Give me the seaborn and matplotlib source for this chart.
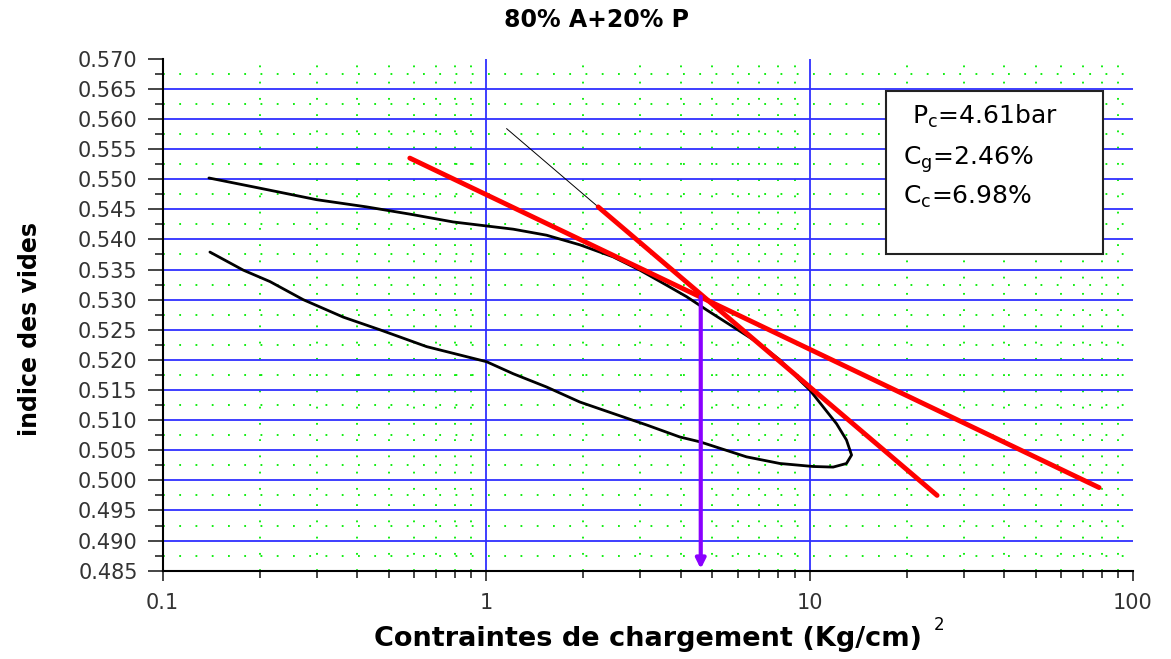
import numpy as np
import pandas as pd
import matplotlib
matplotlib.use("Agg")
import matplotlib.pyplot as plt
import seaborn as sns
from matplotlib.ticker import FixedLocator, LogLocator, NullFormatter

# oedometer curve (loading then unloading)
load_x = [0.139, 0.200, 0.299, 0.427, 0.581, 0.791, 1.015, 1.213, 1.538, 1.950,
          2.471, 2.988, 3.614, 4.166, 4.805, 6.859, 8.094, 9.333, 10.02, 11.02,
          12.12, 13.01, 13.49]
load_y = [0.5502, 0.5485, 0.5466, 0.5454, 0.5442, 0.5429, 0.5422, 0.5417, 0.5407, 0.5391,
          0.5371, 0.5349, 0.5324, 0.5305, 0.5283, 0.5230, 0.5200, 0.5166, 0.5150, 0.5122,
          0.5094, 0.5067, 0.5042]
unload_x = [13.01, 11.83, 10.26, 8.094, 6.387, 4.580, 3.972, 3.134, 2.471, 1.950,
            1.538, 1.213, 1.003, 0.655, 0.4695, 0.3617, 0.272, 0.2147, 0.1775, 0.140]
unload_y = [0.5028, 0.5022, 0.5023, 0.5028, 0.5039, 0.5064, 0.5072, 0.5092, 0.5111, 0.5130,
            0.5155, 0.5177, 0.5197, 0.5222, 0.5250, 0.5271, 0.5300, 0.5330, 0.5349, 0.5379]

# construction lines
thin_x = [1.157, 2.221]
thin_y = [0.5584, 0.5454]
steep_x = [2.221, 24.8]
steep_y = [0.5454, 0.4975]
flat_x = [0.581, 78.6]
flat_y = [0.5535, 0.4988]
pc = 4.61
pc_y = [0.5305, 0.4853]

y_ticks = [round(0.485 + 0.005 * i, 3) for i in range(18)]
x_ticks = [0.1, 1, 10, 100]
x_labels = ["0.1", "1", "10", "100"]

sns.set_style("white")
plt.rcParams['font.family'] = ['DejaVu Sans']
plt.rcParams['mathtext.fontset'] = 'dejavusans'
plt.rcParams['text.color'] = 'black'

fig = plt.figure(figsize=(11.71, 6.59), dpi=100)
ax = fig.add_axes([0.1389, 0.134, 0.8286, 0.7769])

blue = '#2f2fff'
green = '#00ee00'

curve = pd.DataFrame({'x': load_x + unload_x, 'y': load_y + unload_y})
sns.lineplot(data=curve, x='x', y='y', sort=False, estimator=None,
             color='black', lw=2.0, ax=ax, zorder=4)
sns.lineplot(x=thin_x, y=thin_y, color='black', lw=0.7, ax=ax, zorder=4)
sns.lineplot(x=steep_x, y=steep_y, color='#ff0000', lw=3.5, ax=ax, zorder=5)
sns.lineplot(x=flat_x, y=flat_y, color='#ff0000', lw=3.5, ax=ax, zorder=5)

ax.annotate('', xy=(pc, pc_y[1]), xytext=(pc, pc_y[0]),
            arrowprops=dict(arrowstyle='-|>', color='#8a00ff', lw=3,
                            mutation_scale=14, shrinkA=0, shrinkB=0), zorder=6)

ax.set_xscale('log')
ax.set_xlim(0.1, 100)
ax.set_ylim(0.485, 0.570)
ax.set_xticks(x_ticks)
ax.set_xticklabels(x_labels)
ax.xaxis.set_minor_locator(LogLocator(base=10, subs=np.arange(2, 10)))
ax.xaxis.set_minor_formatter(NullFormatter())
ax.set_yticks(y_ticks)
ax.set_yticklabels([f"{v:.3f}" for v in y_ticks])
ax.yaxis.set_minor_locator(FixedLocator([v + 0.0025 for v in y_ticks[:-1]]))
ax.set_xlabel('')
ax.set_ylabel('')

ax.grid(True, which='major', color=blue, lw=1.3)
ax.grid(True, which='minor', color=green, lw=1.3, linestyle=(0, (1, 8)))
for gl in [ax.get_ygridlines()[0], ax.get_ygridlines()[-1],
           ax.get_xgridlines()[0], ax.get_xgridlines()[-1]]:
    gl.set_visible(False)
ax.set_axisbelow(True)

for side in ['top', 'right']:
    ax.spines[side].set_visible(False)
for side in ['left', 'bottom']:
    ax.spines[side].set_color('black')
    ax.spines[side].set_linewidth(1.5)

ax.tick_params(axis='y', which='major', direction='out', length=11, width=1.2,
               labelsize=15, labelcolor='#333333', pad=7, left=True)
ax.tick_params(axis='y', which='minor', direction='out', length=6, width=1.2, left=True)
ax.tick_params(axis='x', which='major', direction='out', length=7, width=1.2,
               labelsize=15, labelcolor='#333333', pad=9, bottom=True)
ax.tick_params(axis='x', which='minor', direction='out', length=5, width=1.2, bottom=True)

# parameter box
box = plt.Rectangle((0.7455, 0.619), 0.2235, 0.318, transform=ax.transAxes,
                    facecolor='white', edgecolor='#222222', lw=1.5, zorder=7)
ax.add_patch(box)
ax.text(0.772, 0.888, r'P$_{\mathrm{c}}$=4.61bar', transform=ax.transAxes,
        fontsize=18, va='center', zorder=8)
ax.text(0.763, 0.803, r'C$_{\mathrm{g}}$=2.46%', transform=ax.transAxes,
        fontsize=18, va='center', zorder=8)
ax.text(0.763, 0.730, r'C$_{\mathrm{c}}$=6.98%', transform=ax.transAxes,
        fontsize=18, va='center', zorder=8)

fig.text(0.509, 0.969, '80% A+20% P', ha='center', va='center',
         fontsize=17, fontweight='bold')
fig.text(0.553, 0.030, 'Contraintes de chargement (Kg/cm)', ha='center', va='center',
         fontsize=19.5, fontweight='bold')
fig.text(0.802, 0.052, '2', ha='center', va='center', fontsize=12)
fig.text(0.026, 0.50, 'indice des vides', ha='center', va='center', rotation=90,
         fontsize=17, fontweight='bold')

fig.savefig('out.png', dpi=100, facecolor='white')
